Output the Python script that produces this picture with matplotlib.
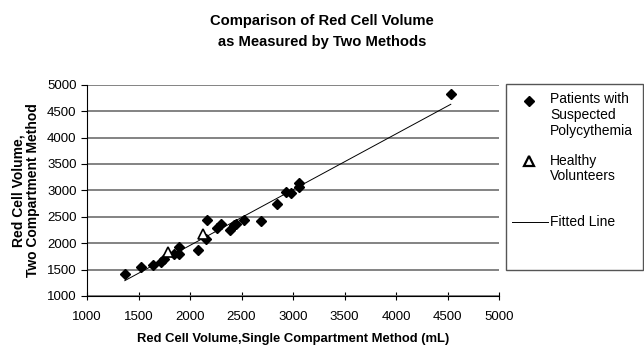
import matplotlib
matplotlib.use("Agg")
import matplotlib.pyplot as plt
from matplotlib.lines import Line2D
from matplotlib.patches import Rectangle

plt.rcParams['font.family'] = ['Liberation Sans', 'DejaVu Sans']

# Patients with suspected polycythemia (single vs two compartment, mL)
patients_x = [1367, 1522, 1645, 1723, 1745, 1846, 1891, 1895, 2080, 2154, 2164,
              2264, 2297, 2384, 2429, 2449, 2523, 2685, 2844, 2928, 2977,
              3061, 3061, 4532]
patients_y = [1422, 1554, 1592, 1649, 1694, 1789, 1789, 1933, 1864, 2078, 2432,
              2281, 2362, 2243, 2337, 2368, 2438, 2419, 2741, 2968, 2943,
              3132, 3057, 4827]

# Healthy volunteers
healthy_x = [1791, 2122]
healthy_y = [1838, 2179]

# Fitted line: y = slope * x + intercept
fit_slope = 1.055
fit_intercept = -152
fit_range = [1367, 4532]

ticks = [1000, 1500, 2000, 2500, 3000, 3500, 4000, 4500, 5000]

fig = plt.figure(figsize=(6.44, 3.47), dpi=100)
W, H = 644, 347
ax = fig.add_axes([87 / W, 1 - 296 / H, (499 - 87) / W, (296 - 84.7) / H])

ax.set_xlim(1000, 5000)
ax.set_ylim(1000, 5000)
ax.set_xticks(ticks)
ax.set_yticks(ticks)
ax.tick_params(labelsize=9.5, length=4, width=0.8, colors='black')
ax.tick_params(axis='x', direction='inout', length=6, pad=8)
ax.yaxis.grid(True, color='#7a7a7a', linewidth=1.3)
ax.set_axisbelow(True)
for side in ['top', 'right']:
    ax.spines[side].set_visible(False)
ax.spines['left'].set_linewidth(0.8)
ax.spines['bottom'].set_linewidth(0.8)

fx = fit_range
fy = [fit_slope * v + fit_intercept for v in fx]
ax.plot(fx, fy, color='black', linewidth=0.7, zorder=2)
ax.plot(patients_x, patients_y, linestyle='none', marker='D', markersize=5.2,
        color='black', zorder=3)
ax.plot(healthy_x, healthy_y, linestyle='none', marker='^', markersize=7,
        markerfacecolor='white', markeredgecolor='black', markeredgewidth=1.2, zorder=4)

ax.set_xlabel("Red Cell Volume,Single Compartment Method (mL)", fontsize=9.4,
              fontweight='bold', labelpad=7)
ax.set_ylabel("Red Cell Volume,\nTwo Compartment Method", fontsize=10,
              fontweight='bold', labelpad=5, linespacing=1.05)

fig.text(0.5, 1 - 31.5 / H, "Comparison of Red Cell Volume\nas Measured by Two Methods",
         ha='center', va='center', fontsize=10.6, fontweight='bold', linespacing=1.65)

# legend box in figure pixels
def px(x, y):
    return (x / W, 1 - y / H)

lx0, ly0 = px(505.5, 270)
lx1, ly1 = px(643, 84.3)
fig.add_artist(Rectangle((lx0, ly0), lx1 - lx0, ly1 - ly0, transform=fig.transFigure,
                         facecolor='white', edgecolor='#555555', linewidth=1.0))
mx, my = px(529, 100.5)
fig.add_artist(Line2D([mx], [my], marker='D', markersize=5.2, color='black',
                      transform=fig.transFigure))
tx, ty = px(550, 115)
fig.text(tx, ty, "Patients with\nSuspected\nPolycythemia", ha='left', va='center',
         fontsize=10, linespacing=1.15)
mx, my = px(529, 160.5)
fig.add_artist(Line2D([mx], [my], marker='^', markersize=6.5, markerfacecolor='white',
                      markeredgecolor='black', markeredgewidth=1.6,
                      transform=fig.transFigure))
tx, ty = px(550, 168.5)
fig.text(tx, ty, "Healthy\nVolunteers", ha='left', va='center', fontsize=10,
         linespacing=1.15)
a, b = px(512, 222)
c, d = px(548, 222)
fig.add_artist(Line2D([a, c], [b, d], color='black', linewidth=0.7,
                      transform=fig.transFigure))
tx, ty = px(550, 222)
fig.text(tx, ty, "Fitted Line", ha='left', va='center', fontsize=10)

fig.savefig("out.png", dpi=100)
